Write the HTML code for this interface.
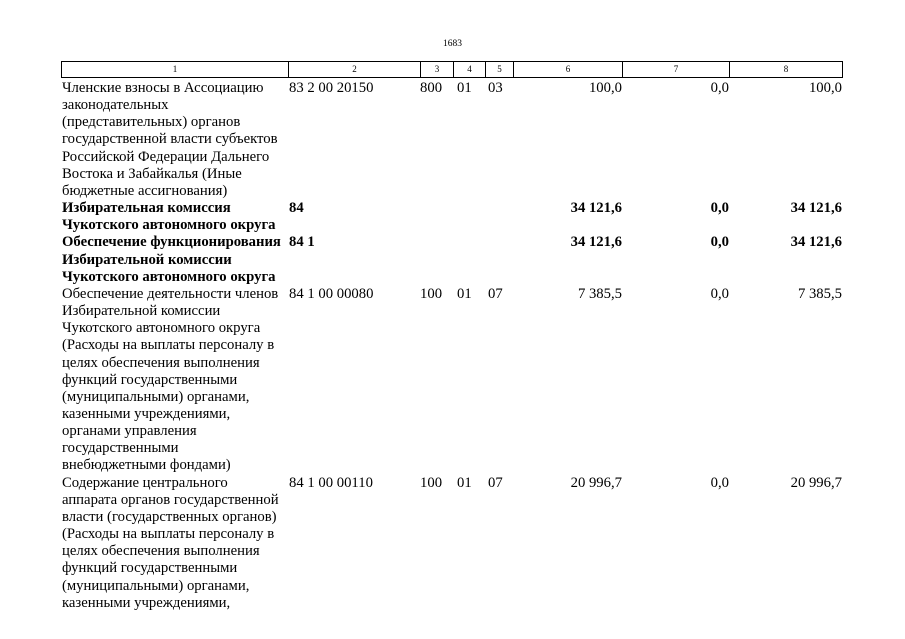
<!DOCTYPE html>
<html><head><meta charset="utf-8"><style>
body{margin:0;background:#fff;width:905px;height:639px;overflow:hidden;position:relative;font-family:"Liberation Serif",serif;color:#000}
.l{position:absolute;font-size:14.7px;line-height:17.15px;white-space:nowrap}
.b{font-weight:bold}
.r{text-align:right}
.h{position:absolute;top:61px;height:17px;border:1.3px solid #000;box-sizing:border-box;font-size:9px;text-align:center;line-height:15px}
.c{position:absolute;font-size:14.7px;line-height:17.15px;white-space:nowrap}
</style></head><body>
<div style="position:absolute;left:443px;top:39px;font-size:9.5px">1683</div>
<div class="h" style="left:61px;width:228px">1</div>
<div class="h" style="left:288px;width:133px">2</div>
<div class="h" style="left:420px;width:34px">3</div>
<div class="h" style="left:453px;width:33px">4</div>
<div class="h" style="left:485px;width:29px">5</div>
<div class="h" style="left:513px;width:110px">6</div>
<div class="h" style="left:622px;width:108px">7</div>
<div class="h" style="left:729px;width:114px">8</div>
<div class="l" style="left:62px;top:80px">Членские взносы в Ассоциацию<br>законодательных<br>(представительных) органов<br>государственной власти субъектов<br>Российской Федерации Дальнего<br>Востока и Забайкалья (Иные<br>бюджетные ассигнования)<br><b>Избирательная комиссия<br>Чукотского автономного округа<br>Обеспечение функционирования<br>Избирательной комиссии<br>Чукотского автономного округа</b><br>Обеспечение деятельности членов<br>Избирательной комиссии<br>Чукотского автономного округа<br>(Расходы на выплаты персоналу в<br>целях обеспечения выполнения<br>функций государственными<br>(муниципальными) органами,<br>казенными учреждениями,<br>органами управления<br>государственными<br>внебюджетными фондами)<br>Содержание центрального<br>аппарата органов государственной<br>власти (государственных органов)<br>(Расходы на выплаты персоналу в<br>целях обеспечения выполнения<br>функций государственными<br>(муниципальными) органами,<br>казенными учреждениями,</div>
<div class="l" style="left:289px;top:80px">83 2 00 20150<br><br><br><br><br><br><br><b>84</b><br><br><b>84 1</b><br><br><br>84 1 00 00080<br><br><br><br><br><br><br><br><br><br><br>84 1 00 00110</div>
<div class="c" style="left:420px;top:80px">800<br><br><br><br><br><br><br><br><br><br><br><br>100<br><br><br><br><br><br><br><br><br><br><br>100</div>
<div class="c" style="left:457px;top:80px">01<br><br><br><br><br><br><br><br><br><br><br><br>01<br><br><br><br><br><br><br><br><br><br><br>01</div>
<div class="c" style="left:488px;top:80px">03<br><br><br><br><br><br><br><br><br><br><br><br>07<br><br><br><br><br><br><br><br><br><br><br>07</div>
<div class="l r" style="left:513px;width:109px;top:80px">100,0<br><br><br><br><br><br><br><b>34 121,6</b><br><br><b>34 121,6</b><br><br><br>7 385,5<br><br><br><br><br><br><br><br><br><br><br>20 996,7</div>
<div class="l r" style="left:622px;width:107px;top:80px">0,0<br><br><br><br><br><br><br><b>0,0</b><br><br><b>0,0</b><br><br><br>0,0<br><br><br><br><br><br><br><br><br><br><br>0,0</div>
<div class="l r" style="left:729px;width:113px;top:80px">100,0<br><br><br><br><br><br><br><b>34 121,6</b><br><br><b>34 121,6</b><br><br><br>7 385,5<br><br><br><br><br><br><br><br><br><br><br>20 996,7</div>
</body></html>
